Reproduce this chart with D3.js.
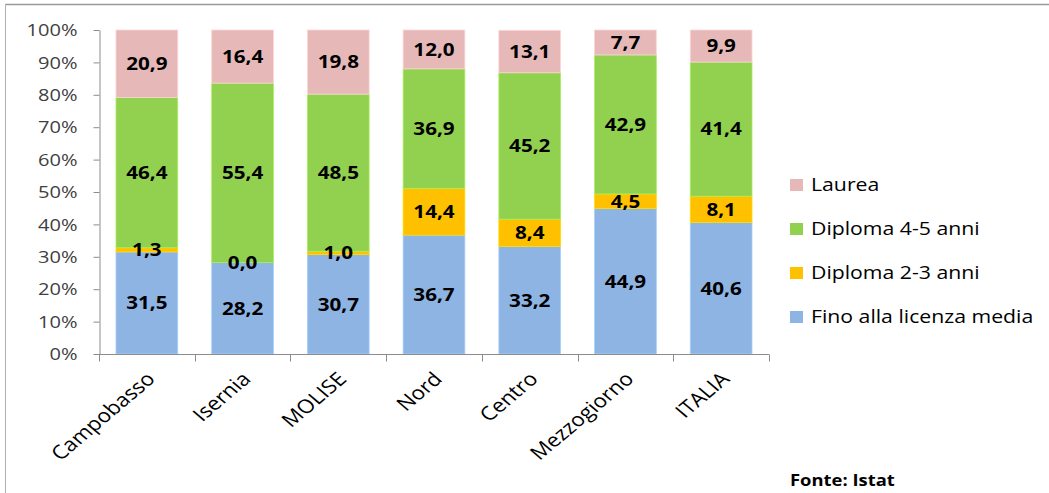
<!DOCTYPE html>
<html>
<head>
<meta charset="utf-8">
<script src="https://cdn.jsdelivr.net/npm/d3@7"></script>
<style>
  html, body { margin: 0; padding: 0; background: #fff; }
  svg { display: block; }
  text { font-family: "Open Sans", Lato, sans-serif; }
</style>
</head>
<body>
<svg id="chart" width="1049" height="493"></svg>
<script>
// Livello di istruzione per territorio (%)
const categories = ["Campobasso", "Isernia", "MOLISE", "Nord", "Centro", "Mezzogiorno", "ITALIA"];
const seriesNames = ["Fino alla licenza media", "Diploma 2-3 anni", "Diploma 4-5 anni", "Laurea"];
const licenzaMedia = [31.5, 28.2, 30.7, 36.7, 33.2, 44.9, 40.6];
const diploma23 = [1.3, 0.0, 1.0, 14.4, 8.4, 4.5, 8.1];
const diploma45 = [46.4, 55.4, 48.5, 36.9, 45.2, 42.9, 41.4];
const laurea = [20.9, 16.4, 19.8, 12.0, 13.1, 7.7, 9.9];
const yTicks = [0, 10, 20, 30, 40, 50, 60, 70, 80, 90, 100];
const colors = ["#8EB4E3", "#FFC000", "#92D050", "#E6B9B8"];
const source = "Fonte: Istat";

const seriesValues = [licenzaMedia, diploma23, diploma45, laurea];
const rows = categories.map((c, i) => {
  const r = { cat: c };
  seriesNames.forEach((s, k) => { r[s] = seriesValues[k][i]; });
  return r;
});

const svg = d3.select("#chart");
const W = 1049, H = 493;
const plot = { left: 99, right: 769, top: 30, bottom: 354 };
// text is drawn slightly widened horizontally
const SX = 1.18;

// outer frame (top and left edges)
svg.append("line").attr("x1", 5).attr("x2", W).attr("y1", 4.5).attr("y2", 4.5)
  .attr("stroke", "#9a9a9a").attr("stroke-width", 1.5);
svg.append("line").attr("x1", 5.5).attr("x2", 5.5).attr("y1", 4).attr("y2", H)
  .attr("stroke", "#b0b0b0").attr("stroke-width", 1);

const x = d3.scaleBand().domain(categories)
  .range([plot.left, plot.right]).paddingInner(0.355).paddingOuter(0.1775);
const y = d3.scaleLinear().domain([0, 100]).range([plot.bottom, plot.top]).clamp(true);

const stacked = d3.stack().keys(seriesNames)(rows);

const g = svg.append("g");
stacked.forEach((layer, k) => {
  g.append("g").selectAll("rect").data(layer).enter().append("rect")
    .attr("x", d => x(d.data.cat))
    .attr("width", x.bandwidth())
    .attr("y", d => y(d[1]))
    .attr("height", d => Math.max(0, y(d[0]) - y(d[1])))
    .attr("fill", colors[k])
    .attr("stroke", d3.color(colors[k]).brighter(0.4))
    .attr("stroke-width", 0.8);
});

// value labels centred on each segment
const fmt = v => v.toFixed(1).replace(".", ",");
stacked.forEach((layer, k) => {
  g.append("g").selectAll("text").data(layer).enter().append("text")
    .attr("transform", d => `translate(${x(d.data.cat) + x.bandwidth() / 2},${(y(d[0]) + y(d[1])) / 2}) scale(${SX},1)`)
    .attr("dy", "0.36em")
    .attr("text-anchor", "middle")
    .attr("font-size", 17.5)
    .attr("font-weight", "bold")
    .attr("fill", "#000")
    .text(d => fmt(d.data[seriesNames[k]]));
});

// y axis
const yAxis = d3.axisLeft(y).tickValues(yTicks).tickFormat(d => d + "%").tickSize(6).tickSizeOuter(0);
const ya = svg.append("g").attr("transform", `translate(${plot.left + 0.5},0)`).call(yAxis);
ya.select(".domain").attr("stroke", "#8c8c8c");
ya.selectAll(".tick line").attr("stroke", "#8c8c8c");
ya.selectAll(".tick text").attr("font-size", 17).attr("fill", "#404040")
  .attr("font-family", "'Open Sans', Lato, sans-serif")
  .attr("x", null)
  .attr("transform", `translate(-22,0) scale(${SX},1)`)
  .attr("dy", "0.33em");

// x axis: category boundary ticks
const xa = svg.append("g").attr("transform", `translate(0,${plot.bottom + 0.5})`);
xa.append("line").attr("x1", plot.left).attr("x2", plot.right)
  .attr("stroke", "#8c8c8c");
const bounds = d3.range(categories.length + 1).map(i => plot.left + i * (plot.right - plot.left) / categories.length);
xa.selectAll("line.tk").data(bounds).enter().append("line").attr("class", "tk")
  .attr("x1", d => Math.round(d) + 0.5).attr("x2", d => Math.round(d) + 0.5)
  .attr("y1", 0).attr("y2", 7).attr("stroke", "#8c8c8c");
xa.selectAll("text").data(categories).enter().append("text")
  .attr("transform", d => `translate(${x(d) + x.bandwidth() / 2 + 4},${21}) scale(${SX},1) rotate(-45)`)
  .attr("text-anchor", "end")
  .attr("dy", "0.35em")
  .attr("font-size", 19)
  .attr("fill", "#000")
  .text(d => d);

// legend, top entry is the top of the stack
const legendItems = seriesNames.map((s, k) => ({ name: s, color: colors[k] })).reverse();
const lg = svg.append("g").attr("transform", "translate(790,185)");
const li = lg.selectAll("g").data(legendItems).enter().append("g")
  .attr("transform", (d, i) => `translate(0,${i * 44})`);
li.append("rect").attr("x", 0).attr("y", -6).attr("width", 13).attr("height", 12)
  .attr("fill", d => d.color);
li.append("text").attr("transform", `translate(21,0) scale(${SX},1)`)
  .attr("dy", "0.35em").attr("font-size", 18)
  .attr("fill", "#000").text(d => d.name);

svg.append("text").attr("transform", `translate(790,486) scale(1.15,1)`)
  .attr("font-size", 16)
  .attr("font-weight", "bold").attr("fill", "#000").text(source);
</script>
</body>
</html>
